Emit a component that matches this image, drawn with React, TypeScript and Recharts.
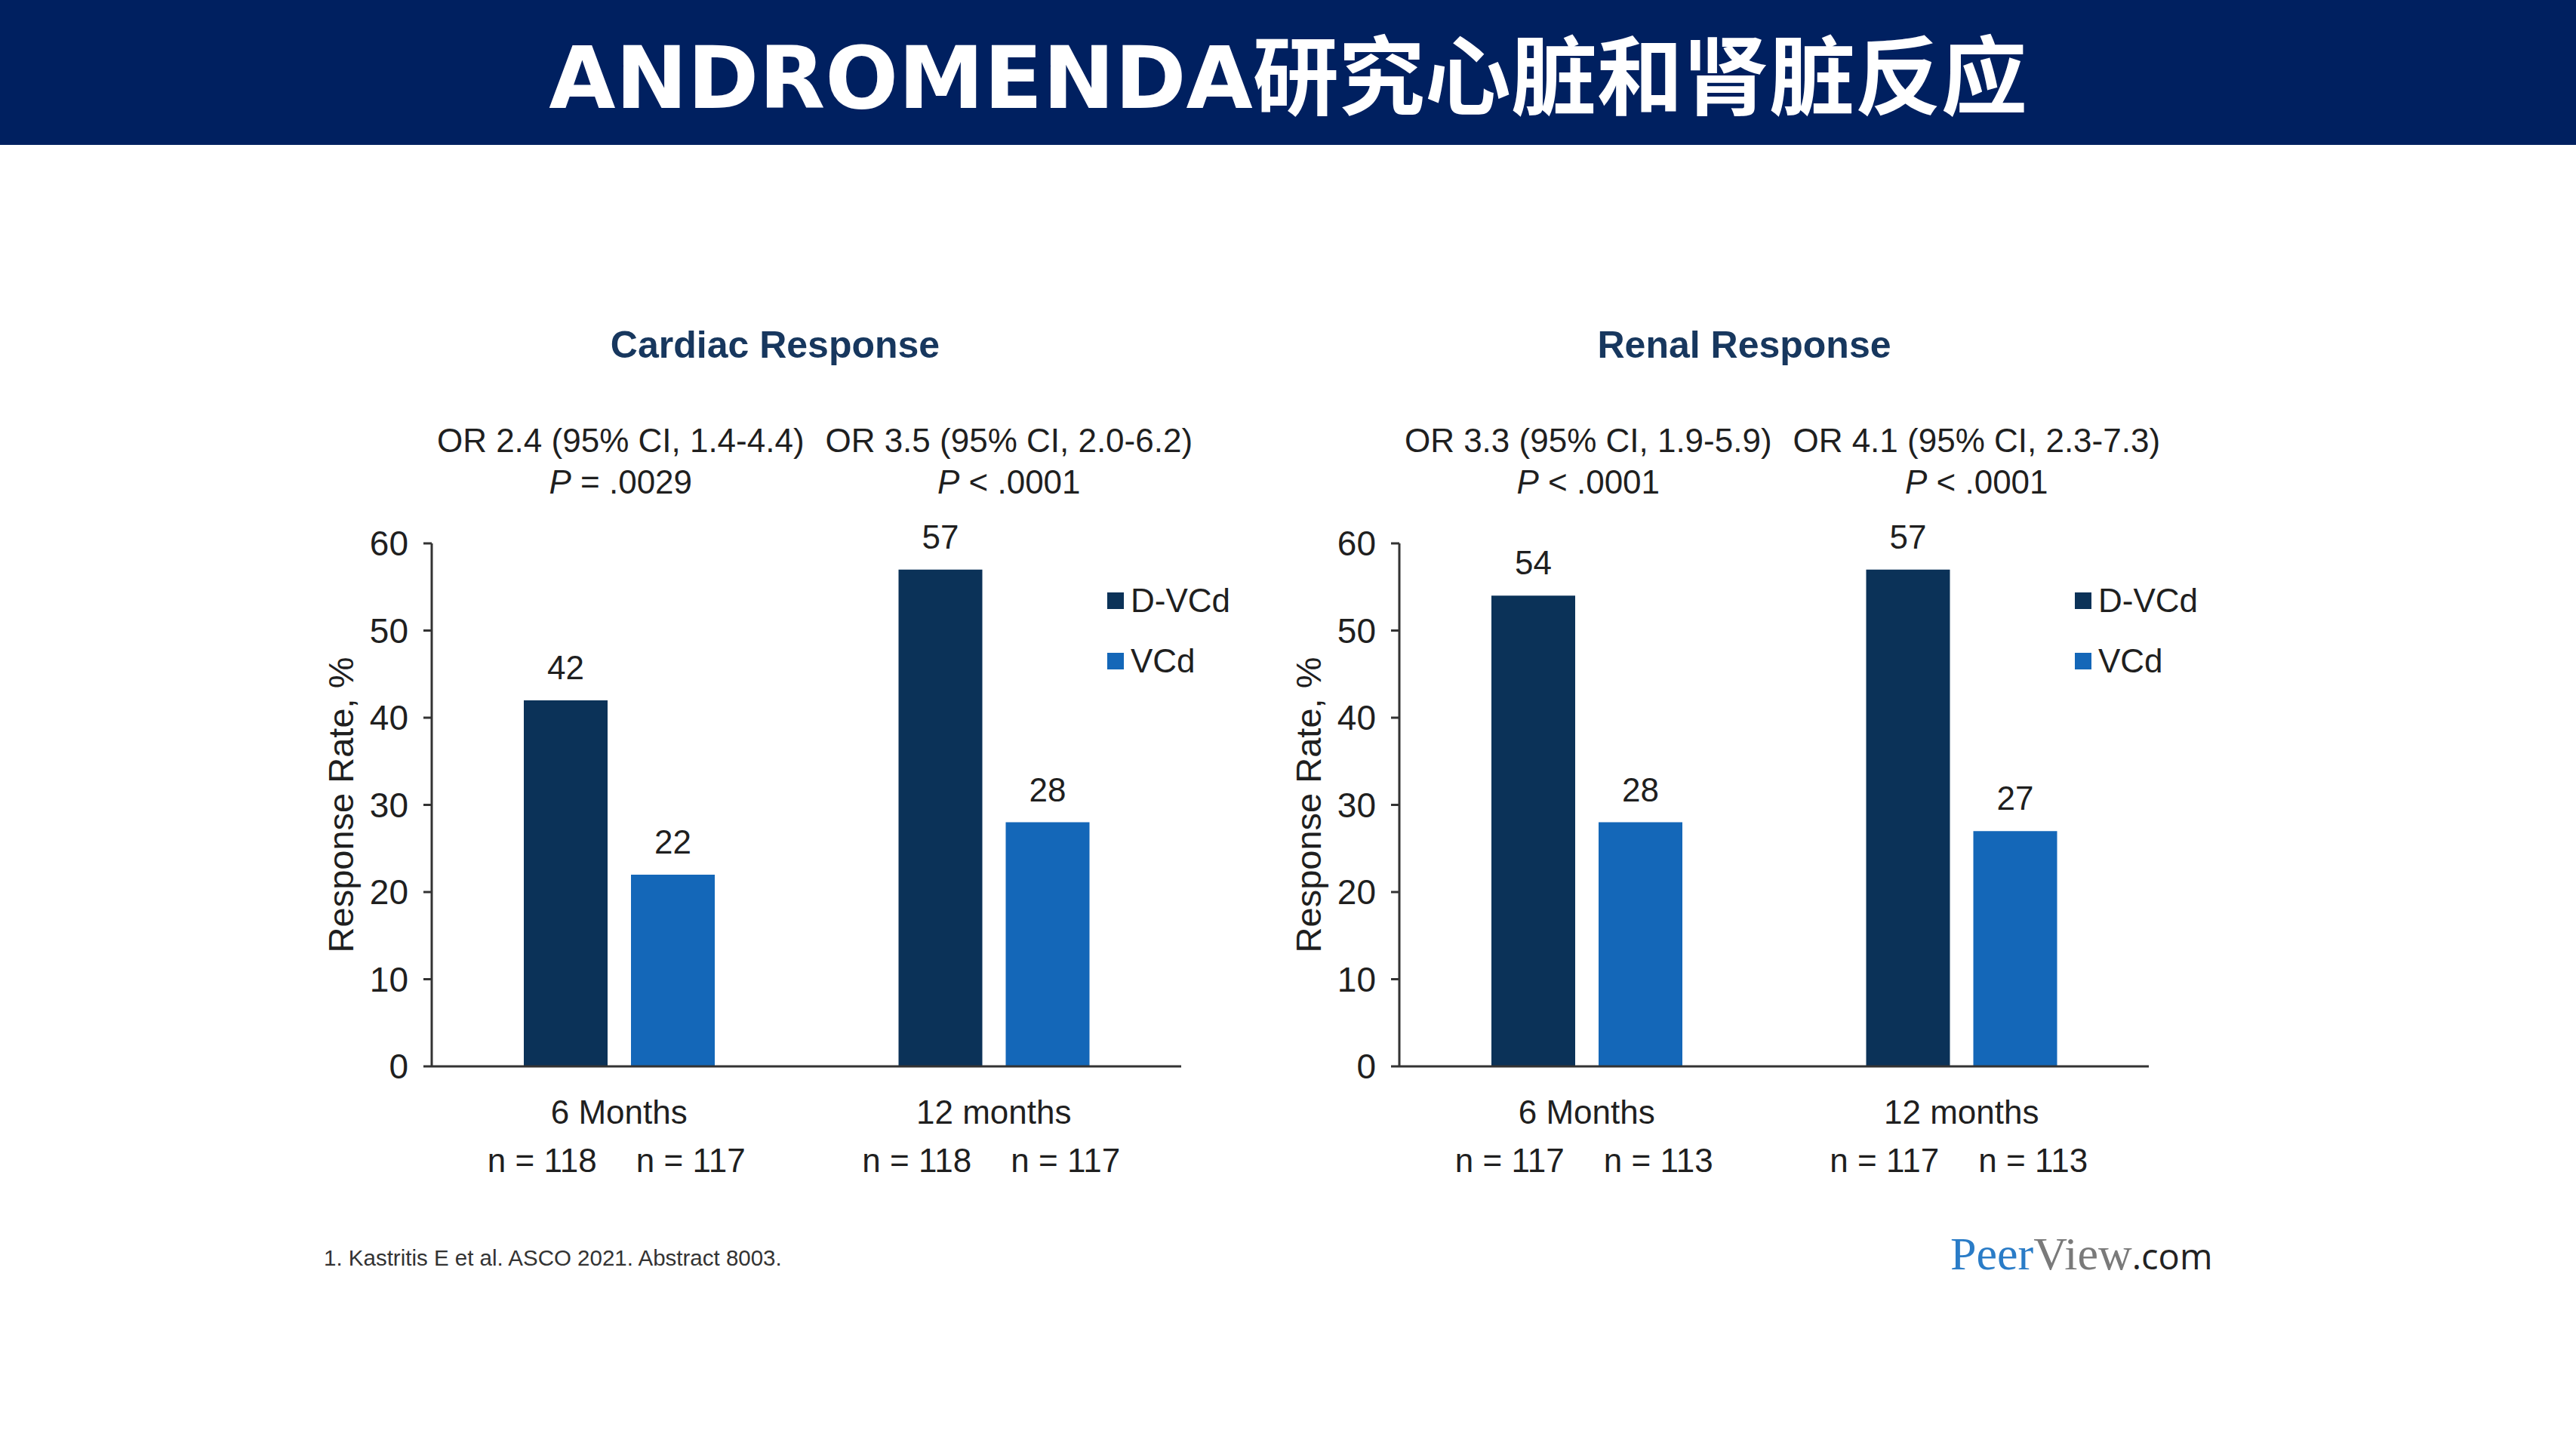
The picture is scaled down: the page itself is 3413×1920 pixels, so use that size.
import React from 'react';
import { BarChart, Bar, XAxis, YAxis, Legend, LabelList } from 'recharts';

// categories & series
const categories = ['6 Months', '12 months'];
const cardiacDVCd = [42, 57];
const cardiacVCd = [22, 28];
const renalDVCd = [54, 57];
const renalVCd = [28, 27];

// sample sizes under each bar
const cardiacN = [['n = 118', 'n = 117'], ['n = 118', 'n = 117']];
const renalN = [['n = 117', 'n = 113'], ['n = 117', 'n = 113']];

// odds ratio annotations
const cardiacOR = ['OR 2.4 (95% CI, 1.4-4.4)', 'OR 3.5 (95% CI, 2.0-6.2)'];
const cardiacP = [' = .0029', ' < .0001'];
const renalOR = ['OR 3.3 (95% CI, 1.9-5.9)', 'OR 4.1 (95% CI, 2.3-7.3)'];
const renalP = [' < .0001', ' < .0001'];

const yTicks = [0, 10, 20, 30, 40, 50, 60];

const DARK = '#0b3258';
const LIGHT = '#1467b8';
const FONT = '"Liberation Sans", Arial, sans-serif';
const TEXT = '#1f1f1f';
const orShift = [2, 20];

const BottomTick = (props: any) => {
  const { x, y, payload, nLabels } = props;
  const i = payload.index;
  return (
    <g fontFamily={FONT} fontSize={44} fill={TEXT}>
      <text x={x} y={y + 76} textAnchor="middle">{payload.value}</text>
      <text x={x - 102} y={y + 140} textAnchor="middle">{nLabels[i][0]}</text>
      <text x={x + 95} y={y + 140} textAnchor="middle">{nLabels[i][1]}</text>
    </g>
  );
};

const TopTick = (props: any) => {
  const { x, y, payload, orLines, pLines } = props;
  const i = payload.index;
  const cx = x + orShift[i];
  return (
    <g fontFamily={FONT} fontSize={44} fill={TEXT}>
      <text x={cx} y={y - 121} textAnchor="middle">{orLines[i]}</text>
      <text x={cx} y={y - 66} textAnchor="middle">
        <tspan fontStyle="italic">P</tspan>
        {pLines[i]}
      </text>
    </g>
  );
};

const renderLegend = (props: any) => (
  <div>
    {props.payload.map((e: any) => (
      <div key={e.value} style={{ display: 'flex', alignItems: 'center', height: 80 }}>
        <span style={{ width: 22, height: 22, background: e.color, marginRight: 9, display: 'inline-block' }} />
        <span style={{ fontSize: 44, fontFamily: FONT, color: TEXT }}>{e.value}</span>
      </div>
    ))}
  </div>
);

const YLabel = (props: any) => {
  const { viewBox } = props;
  const x = viewBox.x + 36;
  const y = viewBox.y + viewBox.height / 2;
  return (
    <text
      x={x}
      y={y}
      transform={`rotate(-90, ${x}, ${y})`}
      textAnchor="middle"
      fontFamily={FONT}
      fontSize={47}
      fill={TEXT}
    >
      Response Rate, %
    </text>
  );
};

function Panel({ left, dvcd, vcd, nLabels, orLines, pLines }: any) {
  const data = categories.map((c, i) => ({ name: c, dvcd: dvcd[i], vcd: vcd[i] }));
  return (
    <div style={{ position: 'absolute', left, top: 420 }}>
      <BarChart
        width={1250}
        height={1180}
        data={data}
        margin={{ top: 100, right: 57, left: 60, bottom: 37 }}
        barSize={111}
        barGap={31}
      >
        <XAxis
          dataKey="name"
          height={150}
          axisLine={{ stroke: '#333', strokeWidth: 3 }}
          tickLine={false}
          tickSize={0}
          tickMargin={0}
          interval={0}
          tick={<BottomTick nLabels={nLabels} />}
        />
        <XAxis
          xAxisId="top"
          orientation="top"
          dataKey="name"
          height={200}
          axisLine={false}
          tickLine={false}
          tickSize={0}
          tickMargin={0}
          interval={0}
          tick={<TopTick orLines={orLines} pLines={pLines} />}
        />
        <YAxis
          width={140}
          domain={[0, 60]}
          ticks={yTicks}
          interval={0}
          axisLine={{ stroke: '#333', strokeWidth: 3 }}
          tickLine={{ stroke: '#333', strokeWidth: 3 }}
          tickSize={11}
          tickMargin={20}
          tick={{ fontSize: 46, fill: TEXT, fontFamily: FONT }}
          label={<YLabel />}
        />
        <Legend
          layout="vertical"
          align="center"
          verticalAlign="middle"
          content={renderLegend}
          wrapperStyle={{ left: 1095, top: 336, width: 200, height: 160 }}
        />
        <Bar dataKey="dvcd" name="D-VCd" fill={DARK} isAnimationActive={false}>
          <LabelList dataKey="dvcd" position="top" offset={28} fontSize={44} fill={TEXT} fontFamily={FONT} />
        </Bar>
        <Bar dataKey="vcd" name="VCd" fill={LIGHT} isAnimationActive={false}>
          <LabelList dataKey="vcd" position="top" offset={28} fontSize={44} fill={TEXT} fontFamily={FONT} />
        </Bar>
      </BarChart>
    </div>
  );
}

export default function App() {
  return (
    <div style={{ position: 'absolute', left: 0, top: 0, width: 3413, height: 1920, background: '#fff', overflow: 'hidden' }}>
      <div style={{ position: 'absolute', left: 0, top: 0, width: 3413, height: 192, background: '#002060' }} />
      <div
        style={{
          position: 'absolute',
          left: 0,
          top: 29,
          width: 3413,
          textAlign: 'center',
          lineHeight: '150px',
          fontSize: 114,
          fontWeight: 'bold',
          color: '#fff',
          fontFamily: '"DejaVu Sans", "Noto Sans CJK SC", sans-serif',
          whiteSpace: 'nowrap',
        }}
      >
        ANDROMENDA研究心脏和肾脏反应
      </div>

      <div style={{ position: 'absolute', left: 627, top: 427, width: 800, lineHeight: '60px', textAlign: 'center', fontSize: 50, fontWeight: 'bold', color: '#17375e', fontFamily: FONT }}>
        Cardiac Response
      </div>
      <div style={{ position: 'absolute', left: 1911, top: 427, width: 800, lineHeight: '60px', textAlign: 'center', fontSize: 50, fontWeight: 'bold', color: '#17375e', fontFamily: FONT }}>
        Renal Response
      </div>

      <Panel left={372} dvcd={cardiacDVCd} vcd={cardiacVCd} nLabels={cardiacN} orLines={cardiacOR} pLines={cardiacP} />
      <Panel left={1654} dvcd={renalDVCd} vcd={renalVCd} nLabels={renalN} orLines={renalOR} pLines={renalP} />

      <div style={{ position: 'absolute', left: 429, top: 1649, lineHeight: '36px', fontSize: 29.5, color: '#333', fontFamily: FONT, whiteSpace: 'nowrap' }}>
        1. Kastritis E et al. ASCO 2021. Abstract 8003.
      </div>

      <div style={{ position: 'absolute', left: 2584, top: 1626, lineHeight: '70px', whiteSpace: 'nowrap' }}>
        <span style={{ fontFamily: '"Liberation Serif", serif', fontSize: 62, color: '#2a7cc7' }}>Peer</span>
        <span style={{ fontFamily: '"Liberation Serif", serif', fontSize: 62, color: '#7a7a7a' }}>View</span>
        <span style={{ fontFamily: '"Open Sans", sans-serif', fontSize: 47, color: '#222' }}>.com</span>
      </div>
    </div>
  );
}
